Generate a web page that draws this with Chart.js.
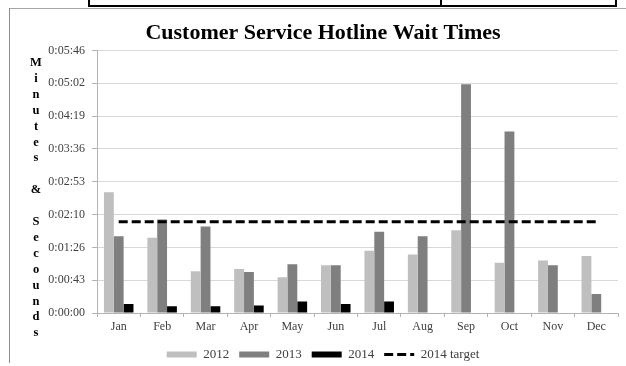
<!DOCTYPE html>
<html>
<head>
<meta charset="utf-8">
<script src="https://cdn.jsdelivr.net/npm/chart.js@4/dist/chart.umd.min.js"></script>
<style>
  html, body { margin: 0; padding: 0; background: #fff; width: 626px; height: 366px; overflow: hidden; position: relative; }
  .ln { position: absolute; }
  #wrap { position: absolute; left: 10px; top: 9px; width: 626px; height: 362px; }
</style>
</head>
<body>
<!-- page frame decorations -->
<div class="ln" style="left:88px; top:5px; width:529px; height:2px; background:#000;"></div>
<div class="ln" style="left:88px; top:0px; width:2px; height:7px; background:#000;"></div>
<div class="ln" style="left:440px; top:0px; width:2px; height:7px; background:#000;"></div>
<div class="ln" style="left:615px; top:0px; width:2px; height:7px; background:#000;"></div>
<div class="ln" style="left:9px; top:8px; width:617px; height:1px; background:#a6a6a6;"></div>
<div class="ln" style="left:9px; top:8px; width:1px; height:355px; background:#8c8c8c;"></div>
<div id="wrap"><canvas id="c" width="626" height="362"></canvas></div>
<script>
// ---- data ----
const months = ['Jan','Feb','Mar','Apr','May','Jun','Jul','Aug','Sep','Oct','Nov','Dec'];
// wait times in seconds
const wait2012 = [159, 99, 55, 58, 47, 63, 82, 77, 109, 66, 69, 75];
const wait2013 = [101, 123, 114, 54, 64, 63, 107, 101, 301, 239, 63, 25];
const wait2014 = [12, 9, 9, 10, 15, 12, 15, null, null, null, null, null];
const target2014 = [120, 120, 120, 120, 120, 120, 120, 120, 120, 120, 120, 120];
const seriesNames = ['2012', '2013', '2014', '2014 target'];
const yTickValues = [0, 43.2, 86.4, 129.6, 172.8, 216, 259.2, 302.4, 345.6];
const yTickLabels = ['0:00:00','0:00:43','0:01:26','0:02:10','0:02:53','0:03:36','0:04:19','0:05:02','0:05:46'];
const yTitleLetters = ['M','i','n','u','t','e','s','','&','','S','e','c','o','u','n','d','s'];
const chartTitle = 'Customer Service Hotline Wait Times';

const colors = ['#BFBFBF', '#7F7F7F', '#000000'];
const serif = "'Liberation Serif', 'Times New Roman', serif";

const stackedTitle = {
  id: 'stackedTitle',
  afterDraw(chart) {
    const ctx = chart.ctx;
    ctx.save();
    ctx.font = 'bold 12.5px ' + serif;
    ctx.fillStyle = '#000';
    ctx.textAlign = 'center';
    ctx.textBaseline = 'middle';
    const top = chart.chartArea.top + 12.4;
    yTitleLetters.forEach((ch, i) => {
      if (ch) ctx.fillText(ch, 26, top + i * 15.9);
    });
    ctx.restore();
  }
};

new Chart(document.getElementById('c'), {
  type: 'bar',
  data: {
    labels: months,
    datasets: [
      { label: seriesNames[0], data: wait2012, backgroundColor: colors[0], borderWidth: 0, categoryPercentage: 0.68, barPercentage: 1.0 },
      { label: seriesNames[1], data: wait2013, backgroundColor: colors[1], borderWidth: 0, categoryPercentage: 0.68, barPercentage: 1.0 },
      { label: seriesNames[2], data: wait2014, backgroundColor: colors[2], borderWidth: 0, categoryPercentage: 0.68, barPercentage: 1.0 },
      { type: 'line', label: seriesNames[3], data: target2014, borderColor: '#000', borderWidth: 3, borderDash: [9, 4],
        pointRadius: 0, fill: false, order: -1, tension: 0 }
    ]
  },
  options: {
    responsive: false,
    animation: false,
    layout: { padding: { left: 18, right: 18, top: 0, bottom: 0 } },
    plugins: {
      tooltip: { enabled: false },
      title: {
        display: true, text: chartTitle, color: '#000',
        font: { family: serif, size: 22, weight: 'bold' },
        padding: { top: 11, bottom: 4 }
      },
      legend: {
        position: 'bottom',
        labels: {
          usePointStyle: true, pointStyleWidth: 30, boxHeight: 6, padding: 10,
          color: '#404040', font: { family: serif, size: 13 },
          generateLabels(chart) {
            return chart.data.datasets.map((ds, i) => {
              if (ds.type === 'line') {
                return { text: ds.label, datasetIndex: i, pointStyle: 'line', fillStyle: 'rgba(0,0,0,0)',
                  strokeStyle: '#000', lineWidth: 3, lineDash: [9, 4], hidden: false, fontColor: '#404040' };
              }
              return { text: ds.label, datasetIndex: i, pointStyle: 'rect', fillStyle: ds.backgroundColor,
                strokeStyle: ds.backgroundColor, lineWidth: 0, hidden: false, fontColor: '#404040' };
            });
          }
        }
      }
    },
    scales: {
      x: {
        afterFit(scale) { scale.height = 25; },
        grid: { display: true, drawOnChartArea: false, drawTicks: true, tickLength: 4, tickColor: '#B3B3B3', offset: true },
        border: { color: '#B3B3B3', width: 1 },
        ticks: { color: '#404040', font: { family: serif, size: 12 }, padding: 3, maxRotation: 0, autoSkip: false }
      },
      y: {
        min: 0, max: 345.6,
        afterFit(scale) { scale.width = 69; },
        afterBuildTicks(scale) { scale.ticks = yTickValues.map(v => ({ value: v })); },
        grid: { color: '#D9D9D9', tickLength: 5, tickColor: '#B3B3B3' },
        border: { color: '#B3B3B3', width: 1 },
        ticks: {
          color: '#404040', font: { family: serif, size: 12 }, padding: 7,
          callback: (v, i) => yTickLabels[i]
        }
      }
    }
  },
  plugins: [stackedTitle]
});
</script>
</body>
</html>
